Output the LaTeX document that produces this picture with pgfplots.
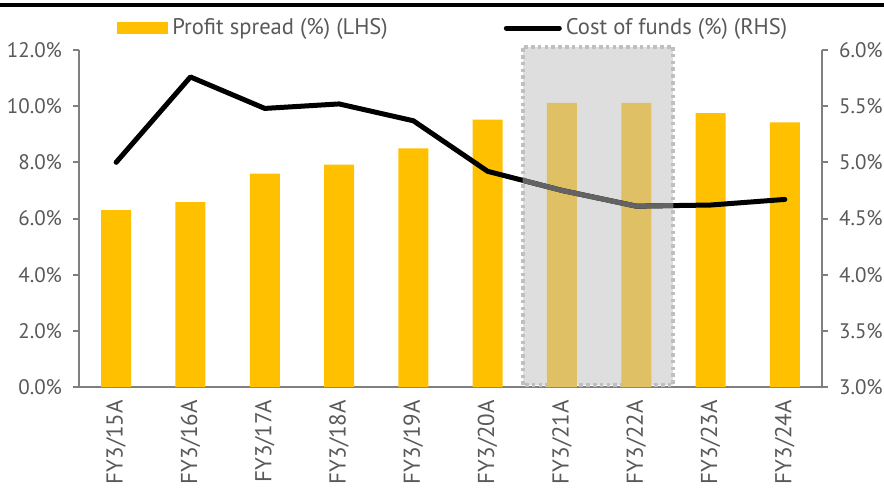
\documentclass[border=0pt]{standalone}
\usepackage{fontspec}
\setmainfont{PT Sans}
\usepackage{pgfplots}
\pgfplotsset{compat=1.18}
\definecolor{barY}{HTML}{FFC000}
\definecolor{barMuted}{HTML}{E0C064}
\definecolor{boxFill}{HTML}{DEDEDE}
\definecolor{boxEdge}{HTML}{BFBFBF}
\definecolor{txtGray}{HTML}{595959}
\definecolor{axGray}{HTML}{7F7F7F}
\definecolor{lineMuted}{HTML}{636363}

\begin{document}
\begin{tikzpicture}
\path[use as bounding box] (-39.5pt,-56.5pt) rectangle (402.5pt,193.5pt);

\pgfplotsset{
  common/.style={
    scale only axis, width=371.5pt, height=168.5pt,
    xmin=-0.5, xmax=9.5,
    tick align=outside, major tick length=3pt,
    axis line style={axGray, line width=1pt},
    tick style={axGray, line width=1pt},
    tick label style={font=\fontsize{10.5}{12}\selectfont, text=txtGray},
    /pgf/number format/assume math mode=true,
  }
}

% LHS: profit spread
\begin{axis}[
  common, clip=false,
  axis y line*=left, axis x line*=bottom,
  ymin=0, ymax=12, ytick={0,2,...,12},
  yticklabel={\pgfmathprintnumber[fixed,fixed zerofill,precision=1]{\tick}\%},
  yticklabel style={xshift=-2pt},
  xtick={0,...,9},
  xticklabels={FY3/15A,FY3/16A,FY3/17A,FY3/18A,FY3/19A,FY3/20A,FY3/21A,FY3/22A,FY3/23A,FY3/24A},
  x tick label style={rotate=90, anchor=east, font=\fontsize{11.5}{12}\selectfont},
  x tick style={draw=none},
  legend columns=2,
  legend style={draw=none, fill=none, at={(0.051,1.065)}, anchor=west, inner sep=0pt,
    font=\fontsize{11.3}{12}\selectfont, text=txtGray,
    /tikz/every even column/.append style={column sep=56pt}},
]
% highlight box FY3/21A-FY3/22A
\fill[boxFill] (axis cs:5.47,0.07) rectangle (axis cs:7.5,12.12);
\draw[boxEdge, line width=2pt, dash pattern=on 1.8pt off 1.6pt] (axis cs:5.47,0.07) rectangle (axis cs:7.5,12.12);

\addplot[ybar, bar width=15pt, fill=barY, draw=none,
  legend image code/.code={\fill[barY] (0pt,-3pt) rectangle (25.5pt,3pt);}]
  coordinates {(0,6.3) (1,6.58) (2,7.6) (3,7.92) (4,8.5) (5,9.52) (8,9.75) (9,9.42)};
\addlegendentry{Profit spread (\%) (LHS)}
\addplot[ybar, bar width=15pt, fill=barMuted, draw=none, forget plot]
  coordinates {(6,10.12) (7,10.12)};
\addlegendimage{legend image code/.code={\draw[black, line width=2.5pt, line cap=round] (0pt,0pt) -- (26.5pt,0pt);}}
\addlegendentry{Cost of funds (\%) (RHS)}
\end{axis}

% RHS: cost of funds
\begin{axis}[
  common,
  axis y line*=right, axis x line=none,
  ymin=3, ymax=6, ytick={3,3.5,...,6},
  yticklabel={\pgfmathprintnumber[fixed,fixed zerofill,precision=1]{\tick}\%},
  yticklabel style={xshift=2pt},
]
\addplot[black, line width=2.5pt, line cap=round, line join=round] coordinates {
  (0,5.0) (1,5.76) (2,5.48) (3,5.52) (4,5.37) (5,4.92) (6,4.75) (7,4.61) (8,4.62) (9,4.67)
};
\begin{scope}
\clip (axis cs:5.47,3) rectangle (axis cs:7.5,6);
\addplot[lineMuted, line width=2.5pt, line join=round] coordinates {
  (0,5.0) (1,5.76) (2,5.48) (3,5.52) (4,5.37) (5,4.92) (6,4.75) (7,4.61) (8,4.62) (9,4.67)
};
\end{scope}
\end{axis}

\draw[black, line width=1.75pt] (-39.5pt,191pt) -- (402.5pt,191pt);
\end{tikzpicture}
\end{document}
